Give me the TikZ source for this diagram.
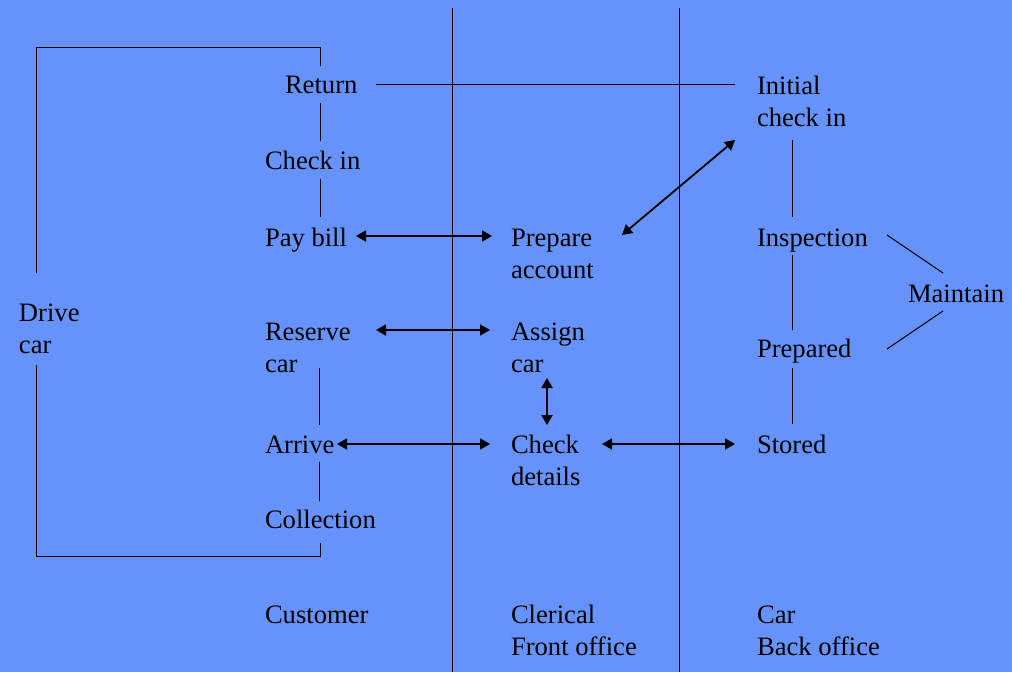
\documentclass[tikz,border=0pt]{standalone}
\usepackage{fontspec}
\setmainfont{Liberation Serif}
\usetikzlibrary{arrows.meta,calc}
\definecolor{bgblue}{RGB}{102,146,252}
\newcommand\twoline[2]{\vtop{\hbox{#1}\hbox{#2}}}
\begin{document}
\begin{tikzpicture}[x=1pt,y=-1pt,
  lbl/.style={anchor=base west,inner sep=0pt,outer sep=0pt,font=\fontsize{26.6}{32}\selectfont},
  thin line/.style={draw=black,line width=1pt},
  arr/.style={draw=black,line width=1.8pt,{Triangle[length=10pt,width=11pt]}-{Triangle[length=10pt,width=11pt]}}]
\fill[bgblue] (0,0) rectangle (1012,672);
\useasboundingbox (0,0) rectangle (1012,672);
% lane dividers
\coordinate (d1t) at (452,8); \coordinate (d1b) at (452,672);
\coordinate (d2t) at (679,8); \coordinate (d2b) at (679,672);
\draw[thin line] (d1t) -- (d1b);
\draw[thin line] (d2t) -- (d2b);
% customer lane
\node[lbl] (ret) at (285,93) {Return};
\node[lbl] (ci) at (265,169) {Check in};
\node[lbl] (pay) at (265,246) {Pay bill};
\node[lbl] (res) at (265,340) {\twoline{Reserve}{car}};
\node[lbl] (arr) at (265,453) {Arrive};
\node[lbl] (col) at (265,528) {Collection};
\node[lbl] (cust) at (265,623) {Customer};
\node[lbl] (drive) at (19,321) {\twoline{Drive}{car}};
% clerical lane
\node[lbl] (prep) at (511,246) {\twoline{Prepare}{account}};
\node[lbl] (asg) at (511,340) {\twoline{Assign}{car}};
\node[lbl] (chk) at (511,453) {\twoline{Check}{details}};
\node[lbl] (cler) at (511,623) {\twoline{Clerical}{Front office}};
% car lane
\node[lbl] (init) at (757,94) {\twoline{Initial}{check in}};
\node[lbl] (insp) at (757,246) {Inspection};
\node[lbl] (prepd) at (757,357) {Prepared};
\node[lbl] (stor) at (757,453) {Stored};
\node[lbl] (carlane) at (757,623) {\twoline{Car}{Back office}};
\node[lbl] (maint) at (908,302) {Maintain};
% customer lane lines
\draw[thin line] ($(ret.base west)+(35,10)$) -- ($(ci.base west)+(55,-28)$);
\draw[thin line] ($(ci.base west)+(55,10)$) -- ($(pay.base west)+(55,-29)$);
\draw[thin line] ($(res.base west)+(54,28)$) -- ($(arr.base west)+(54,-28)$);
\draw[thin line] ($(arr.base west)+(54,9)$) -- ($(col.base west)+(54,-27)$);
% drive car bracket
\draw[thin line] ($(ret.base west)+(35,-27)$) -- ++(0,-19) -| ($(drive.base west)+(17,-48)$);
\draw[thin line] ($(drive.base west)+(17,44)$) |- ($(col.base west)+(55,28)$) -- ($(col.base west)+(55,15)$);
% return line
\draw[thin line] ($(ret.base west)+(91,-9)$) -- ($(init.base west)+(-22,-10)$);
% car lane lines
\draw[thin line] ($(init.base west)+(35,46)$) -- ($(insp.base west)+(35,-29)$);
\draw[thin line] ($(insp.base west)+(35,9)$) -- ($(prepd.base west)+(35,-27)$);
\draw[thin line] ($(prepd.base west)+(35,11)$) -- ($(stor.base west)+(35,-29)$);
\draw[thin line] ($(insp.base west)+(130,-11)$) -- ($(maint.base west)+(35,-29)$);
\draw[thin line] ($(maint.base west)+(35,9)$) -- ($(prepd.base west)+(130,-8)$);
% arrows
\draw[arr] ($(pay.base west)+(91,-10)$) -- ($(prep.base west)+(-19,-10)$);
\draw[arr] ($(res.base west)+(111,-10)$) -- ($(asg.base west)+(-21,-10)$);
\draw[arr] ($(arr.base west)+(72,-9)$) -- ($(chk.base west)+(-21,-9)$);
\draw[arr] ($(asg.base west)+(36,38)$) -- ($(chk.base west)+(36,-28)$);
\draw[arr] ($(chk.base west)+(91,-9)$) -- ($(stor.base west)+(-22,-9)$);
\draw[arr] ($(prep.base west)+(111,-11)$) -- ($(init.base west)+(-22,46)$);
\end{tikzpicture}
\end{document}
